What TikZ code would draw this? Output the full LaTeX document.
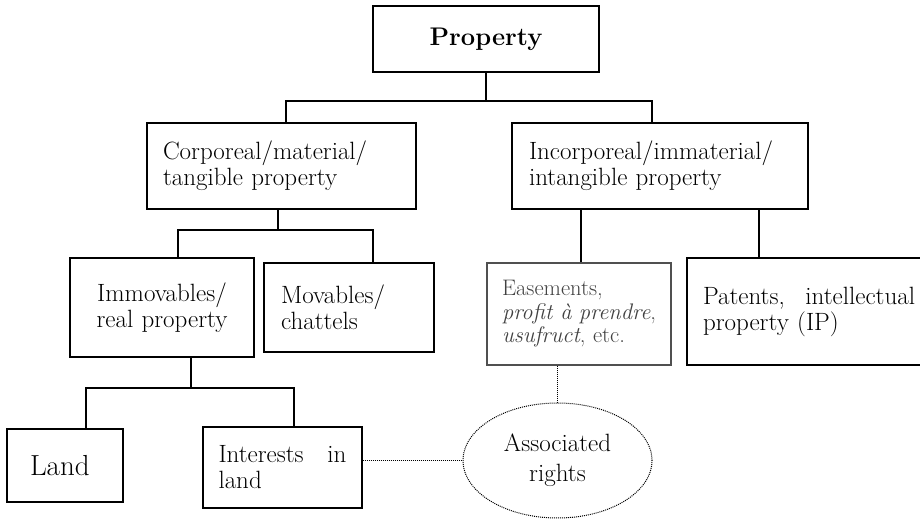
\documentclass[tikz,border=0pt]{standalone}
\usetikzlibrary{shapes.geometric}
\definecolor{easline}{RGB}{80,80,80}
\definecolor{eastext}{RGB}{65,65,65}
\begin{document}
\begin{tikzpicture}[x=1pt,y=-1pt,
  box/.style={draw, line width=1.2pt, rectangle, inner ysep=2pt, font=\fontsize{25}{26}\selectfont},
  conn/.style={line width=1.1pt},
  dotline/.style={line width=1pt, densely dotted},
]
\useasboundingbox (0,0) rectangle (920,519);

\node[box, minimum width=226pt, minimum height=66pt, font=\fontsize{25.5}{28}\selectfont\bfseries] (prop) at (486,39) {Property};

\node[box, text width=237pt, inner xsep=16pt, minimum height=86pt, align=left] (corp) at (281.5,166) {Corporeal/material/\\tangible property};
\node[box, text width=262pt, inner xsep=17pt, minimum height=86pt, align=left] (incorp) at (660,166) {Incorporeal/immaterial/\\intangible property};

\node[box, text width=152pt, inner xsep=16pt, minimum height=99pt, align=center] (immov) at (162,307.5) {Immovables/\\real property};
\node[box, text width=136pt, inner xsep=17pt, minimum height=89pt, align=left] (mov) at (349,307.5) {Movables/\\chattels};

\node[box, draw=easline, text=eastext, line width=1.1pt, text width=154pt, inner xsep=15pt, minimum height=102pt, align=left, font=\fontsize{22.5}{23.5}\selectfont] (eas) at (579,314) {Easements,\\\textit{profit}\hfill\textit{à}\hfill\textit{prendre},\\\textit{usufruct}, etc.};
\node[box, text width=212pt, inner xsep=16pt, minimum height=107pt, align=left] (pat) at (809,311.5) {Patents,\hfill intellectual\\property (IP)};

\node[box, text width=70pt, inner xsep=23pt, minimum height=73pt, align=left, font=\fontsize{29}{30}\selectfont] (land) at (65,465.5) {Land};
\node[box, text width=128pt, inner xsep=15.5pt, minimum height=81pt, align=left] (int) at (282.5,467.5) {Interests\hfill in\\land};

\node[ellipse, draw, dotline, minimum width=189pt, minimum height=115pt, align=center, font=\fontsize{25}{30}\selectfont] (ell) at (557.5,460.5) {Associated\\rights};

% level 1 bus
\coordinate (b1l) at (286,101);
\coordinate (b1r) at (652,101);
\draw[conn] (prop.south) -- (prop.south |- b1l);
\draw[conn] (corp.north -| b1l) -- (b1l) -- (b1r) -- (incorp.north -| b1r);

% corporeal bus
\coordinate (b2m) at (278,230);
\coordinate (b2l) at (178,230);
\coordinate (b2r) at (373,230);
\draw[conn] (corp.south -| b2m) -- (b2m);
\draw[conn] (immov.north -| b2l) -- (b2l) -- (b2r) -- (mov.north -| b2r);

% incorporeal children
\coordinate (e1) at (581,240);
\coordinate (e2) at (759,240);
\draw[conn] (incorp.south -| e1) -- (eas.north -| e1);
\draw[conn] (incorp.south -| e2) -- (pat.north -| e2);

% immovables bus
\coordinate (b3m) at (191,388);
\coordinate (b3l) at (86,388);
\coordinate (b3r) at (294,388);
\draw[conn] (immov.south -| b3m) -- (b3m);
\draw[conn] (land.north -| b3l) -- (b3l) -- (b3r) -- (int.north -| b3r);

% dotted links
\draw[dotline] (int.east |- ell.west) -- (ell.west);
\draw[dotline] (eas.south -| ell.north) -- (ell.north);
\end{tikzpicture}
\end{document}
